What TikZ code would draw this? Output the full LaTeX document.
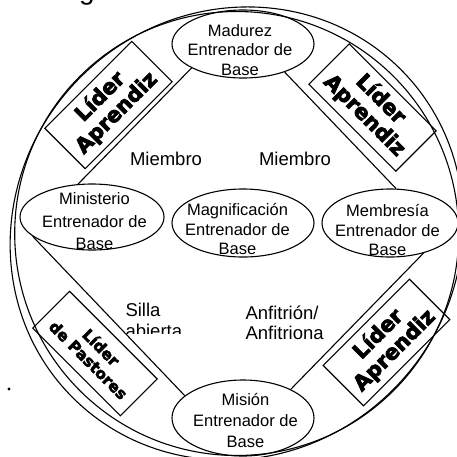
\documentclass[tikz,border=0pt]{standalone}
\usepackage{fontspec}
\setmainfont{Liberation Sans}
\newfontfamily\heavyfont[FakeBold=3.5]{DejaVu Sans Bold}
\usetikzlibrary{shapes.geometric}
\begin{document}
\begin{tikzpicture}[x=1pt,y=1pt,line width=1.1pt,
  oval/.style={ellipse, draw, inner sep=0pt},
  ovaltext/.style={align=center, inner sep=0pt, font=\fontsize{16.5}{19.5}\selectfont},
  lbl/.style={align=left, inner sep=0pt, font=\fontsize{18.5}{20}\selectfont},
  tab/.style={draw, inner sep=0pt, minimum width=123pt, minimum height=57pt, align=center,
    font=\heavyfont\fontsize{21}{23}\selectfont},
  tabsmall/.style={tab, minimum width=124pt, minimum height=52pt,
    font=\heavyfont\fontsize{15.5}{18}\selectfont},
  conn/.style={draw, line width=1.1pt}]
\useasboundingbox (0,0) rectangle (457,-456);
% heading fragment and dot
\node[anchor=base, inner sep=0pt, font=\fontsize{28}{28}\selectfont] (heading) at (87,1) {g};
\node[circle, fill, inner sep=0pt, minimum size=3.4pt] (dot) at (9,-389) {};
% outer circle and ellipse
\coordinate (c) at (236.7,-233.5);
\draw (c) circle (222);
\draw[rotate around={45:(c)}] (c) ellipse [x radius=232, y radius=221];
% ovals
\node[oval, minimum width=142pt, minimum height=68pt] (madurez) at (243,-44) {};
\node[oval, minimum width=144pt, minimum height=66pt] (ministerio) at (92,-217) {};
\node[oval, minimum width=142pt, minimum height=68pt] (magnif) at (243,-223) {};
\node[oval, minimum width=136pt, minimum height=68pt] (membresia) at (390,-223) {};
\node[oval, minimum width=142pt, minimum height=76pt] (mision) at (243,-418) {};
\node[ovaltext] (madurezT) at (240,-50) {Madurez\\Entrenador de\\Base};
\node[ovaltext, font=\fontsize{16.5}{22.5}\selectfont] (ministerioT) at (94.5,-221.5) {Ministerio\\Entrenador de\\Base};
\node[ovaltext] (magnifT) at (237.5,-229) {Magnificación\\Entrenador de\\Base};
\node[ovaltext] (membresiaT) at (387.5,-230) {Membresía\\Entrenador de\\Base};
\node[ovaltext, font=\fontsize{16.5}{21}\selectfont] (misionT) at (245.5,-420) {Misión\\Entrenador de\\Base};
% diamond connectors
\draw[conn] (madurez.205) -- (ministerio.113);
\draw[conn] (madurez.326) -- (membresia.80);
\draw[conn] (ministerio.198) -- (mision.159);
\draw[conn] (membresia.318) -- (mision.31);
% tabs
\node[tab, rotate=45] (tabNW) at (108.5,-105) {Líder\\Aprendiz};
\node[tab, rotate=-45] (tabNE) at (372.5,-107.5) {Líder\\Aprendiz};
\node[tab, rotate=45, minimum width=122pt] (tabSE) at (386.5,-342.5) {Líder\\Aprendiz};
\node[tabsmall, rotate=-45] (tabSW) at (95,-353.5) {Líder\\de Pastores};
% labels
\node[lbl] (miembroL) at (166,-158.5) {Miembro};
\node[lbl] (miembroR) at (295,-158.5) {Miembro};
\begin{scope}
\clip (100,-290) rectangle (230,-333);
\node[lbl, anchor=north west, font=\fontsize{18.5}{21}\selectfont] (silla) at (125,-303) {Silla\\abierta};
\end{scope}
\node[lbl, anchor=north west] (anfitrion) at (245,-305) {Anfitrión/\\Anfitriona};
\end{tikzpicture}
\end{document}
